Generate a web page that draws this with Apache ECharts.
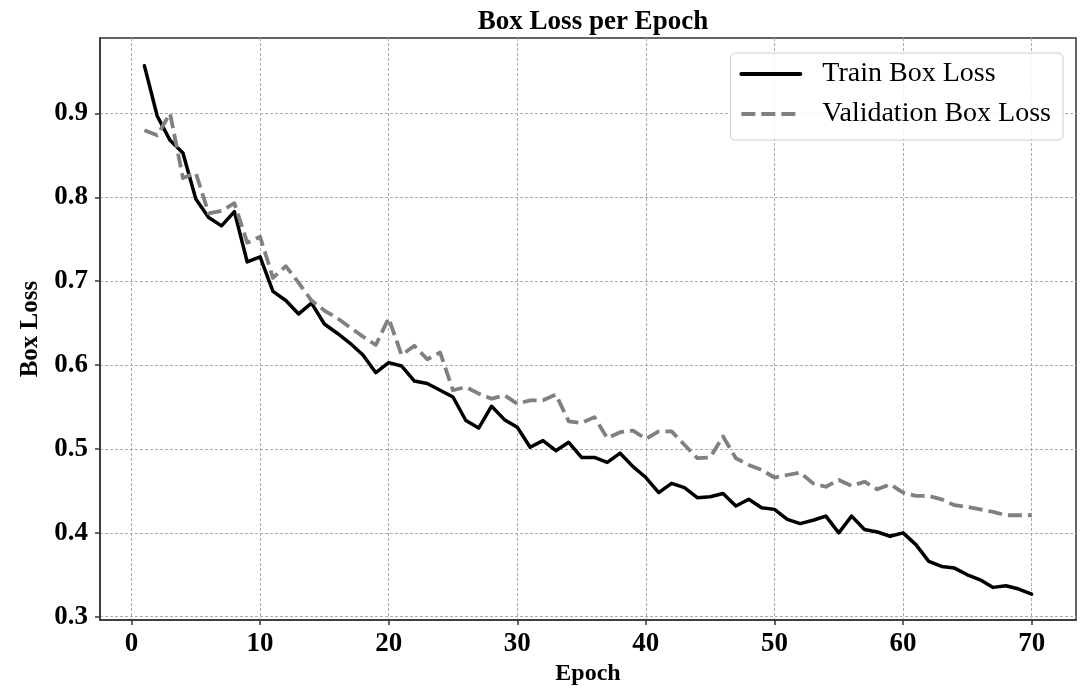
<!DOCTYPE html>
<html>
<head>
<meta charset="utf-8">
<title>Box Loss per Epoch</title>
<script src="https://cdn.jsdelivr.net/npm/echarts@6/dist/echarts.min.js"></script>
<style>
  html, body { margin: 0; padding: 0; background: #fff; }
  #chart { width: 1092px; height: 691px; }
</style>
</head>
<body>
<div id="chart"></div>
<script>
// Epoch numbers
const epochs = [
  1, 2, 3, 4, 5, 6, 7, 8, 9, 10,
  11, 12, 13, 14, 15, 16, 17, 18, 19, 20,
  21, 22, 23, 24, 25, 26, 27, 28, 29, 30,
  31, 32, 33, 34, 35, 36, 37, 38, 39, 40,
  41, 42, 43, 44, 45, 46, 47, 48, 49, 50,
  51, 52, 53, 54, 55, 56, 57, 58, 59, 60,
  61, 62, 63, 64, 65, 66, 67, 68, 69, 70
];

// Training box loss per epoch
const trainBoxLoss = [
  0.957, 0.897, 0.868, 0.853, 0.798, 0.776, 0.766, 0.783, 0.723, 0.729,
  0.688, 0.677, 0.661, 0.674, 0.649, 0.638, 0.626, 0.612, 0.591, 0.603,
  0.599, 0.581, 0.578, 0.570, 0.562, 0.534, 0.525, 0.551, 0.535, 0.526,
  0.502, 0.510, 0.498, 0.508, 0.490, 0.490, 0.484, 0.495, 0.479, 0.466,
  0.448, 0.459, 0.454, 0.442, 0.443, 0.447, 0.432, 0.440, 0.430, 0.428,
  0.416, 0.411, 0.415, 0.420, 0.400, 0.420, 0.404, 0.401, 0.396, 0.400,
  0.386, 0.366, 0.360, 0.358, 0.350, 0.344, 0.335, 0.337, 0.333, 0.327
];

// Validation box loss per epoch
const valBoxLoss = [
  0.880, 0.874, 0.900, 0.823, 0.829, 0.781, 0.784, 0.793, 0.746, 0.753,
  0.704, 0.718, 0.698, 0.677, 0.665, 0.656, 0.645, 0.634, 0.624, 0.656,
  0.612, 0.623, 0.607, 0.615, 0.570, 0.574, 0.566, 0.560, 0.564, 0.554,
  0.558, 0.558, 0.565, 0.533, 0.531, 0.538, 0.513, 0.520, 0.522, 0.512,
  0.521, 0.521, 0.505, 0.489, 0.490, 0.515, 0.489, 0.481, 0.475, 0.466,
  0.469, 0.472, 0.459, 0.455, 0.463, 0.456, 0.461, 0.452, 0.458, 0.448,
  0.444, 0.444, 0.440, 0.433, 0.431, 0.428, 0.425, 0.421, 0.421, 0.421
];

// Tick positions
const xTicks = [0, 10, 20, 30, 40, 50, 60, 70];
const yTicks = [0.3, 0.4, 0.5, 0.6, 0.7, 0.8, 0.9];

const FONT = '"Liberation Serif", "Times New Roman", serif';

const trainData = epochs.map((e, i) => [e, trainBoxLoss[i]]);
const valData = epochs.map((e, i) => [e, valBoxLoss[i]]);

const gridLine = { show: true, lineStyle: { color: '#ababab', width: 1, type: [3, 2] } };

const chart = echarts.init(document.getElementById('chart'), null, { renderer: 'canvas' });

chart.setOption({
  backgroundColor: '#ffffff',
  animation: false,
  title: {
    text: 'Box Loss per Epoch',
    left: 588,
    textAlign: 'center',
    top: 4,
    textStyle: { fontFamily: FONT, fontWeight: 'bold', fontSize: 27, color: '#000' }
  },
  legend: {
    orient: 'vertical',
    right: 29,
    top: 53,
    itemWidth: 59,
    itemHeight: 14,
    itemGap: 10,
    padding: [6, 12, 11, 9],
    backgroundColor: 'rgba(255,255,255,0.85)',
    borderColor: '#cccccc',
    borderWidth: 1,
    borderRadius: 5,
    lineStyle: { width: 4 },
    itemStyle: { opacity: 0 },
    textStyle: { fontFamily: FONT, fontSize: 28, color: '#000', lineHeight: 30, padding: [0, 0, 0, 17] },
    data: ['Train Box Loss', 'Validation Box Loss']
  },
  grid: {
    left: 100,
    right: 16,
    top: 38,
    bottom: 69,
    show: true,
    borderColor: '#333333',
    borderWidth: 1.5,
    backgroundColor: 'transparent'
  },
  xAxis: {
    type: 'value',
    min: -2.45,
    max: 73.45,
    name: 'Epoch',
    nameLocation: 'middle',
    nameGap: 39,
    nameTextStyle: { fontFamily: FONT, fontWeight: 'bold', fontSize: 24, color: '#000' },
    axisLine: { show: true, onZero: false, lineStyle: { color: '#333333', width: 1.5 } },
    axisTick: { show: true, inside: false, length: 5, customValues: xTicks, lineStyle: { color: '#333333', width: 1.5 } },
    axisLabel: {
      customValues: xTicks,
      margin: 10,
      fontFamily: FONT, fontWeight: 'bold', fontSize: 27, color: '#000',
      formatter: v => String(Math.round(v))
    },
    splitLine: gridLine
  },
  yAxis: {
    type: 'value',
    min: 0.296,
    max: 0.990,
    name: 'Box Loss',
    nameLocation: 'middle',
    nameGap: 54,
    nameRotate: 90,
    nameTextStyle: { fontFamily: FONT, fontWeight: 'bold', fontSize: 25, color: '#000' },
    axisLine: { show: true, onZero: false, lineStyle: { color: '#333333', width: 1.5 } },
    axisTick: { show: true, inside: false, length: 5, customValues: yTicks, lineStyle: { color: '#333333', width: 1.5 } },
    axisLabel: {
      customValues: yTicks,
      margin: 12,
      fontFamily: FONT, fontWeight: 'bold', fontSize: 27, color: '#000',
      formatter: v => v.toFixed(1)
    },
    splitLine: gridLine
  },
  series: [
    {
      name: 'Train Box Loss',
      type: 'line',
      data: trainData,
      showSymbol: false,
      symbol: 'none',
      lineStyle: { color: '#000000', width: 3.5, join: 'round', cap: 'round' },
      itemStyle: { color: '#000000' },
      z: 3
    },
    {
      name: 'Validation Box Loss',
      type: 'line',
      data: valData,
      showSymbol: false,
      symbol: 'none',
      lineStyle: { color: '#808080', width: 3.8, type: [14, 6], join: 'round', cap: 'butt' },
      itemStyle: { color: '#808080' },
      z: 4
    }
  ]
});
</script>
</body>
</html>
